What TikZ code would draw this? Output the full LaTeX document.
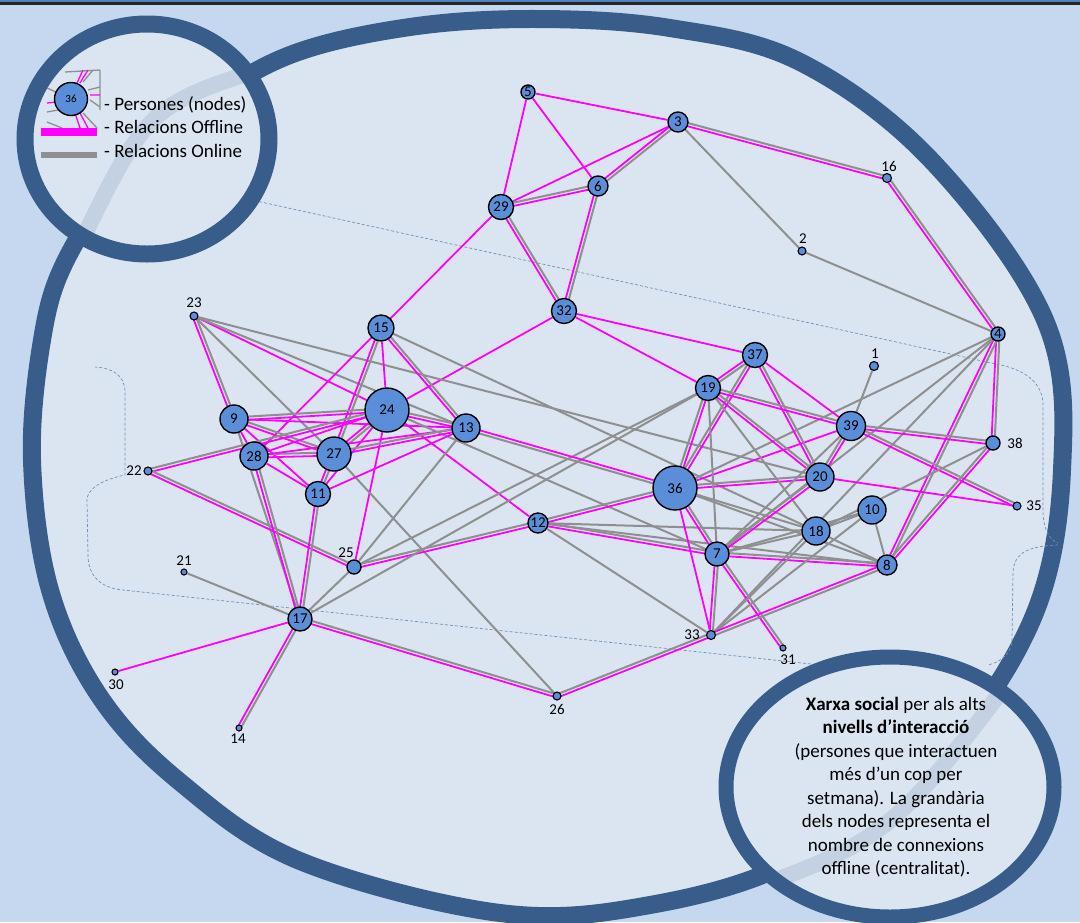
\documentclass[tikz,border=0pt]{standalone}
\usepackage{fontspec}
\setmainfont{Carlito}
\usetikzlibrary{calc}
\definecolor{bgout}{HTML}{C5D8F0}
\definecolor{bgin}{HTML}{DBE5F1}
\definecolor{ringc}{HTML}{385D8A}
\definecolor{nodec}{HTML}{5B8ED8}
\definecolor{offc}{HTML}{FF00FF}
\definecolor{onc}{HTML}{8F8F8F}
\definecolor{dshc}{HTML}{7090BA}
\definecolor{swc}{HTML}{C3D1E2}
\definecolor{topc}{HTML}{4F81BD}
\pgfdeclarelayer{deco}\pgfdeclarelayer{edges}\pgfdeclarelayer{front}
\pgfsetlayers{deco,edges,main,front}
\newcommand\eM[2]{\draw[offl] (n#1) -- (n#2);}
\newcommand\eG[2]{\draw[onl] (n#1) -- (n#2);}
\newcommand\eB[2]{\draw[onl] ($(n#1)!1.6pt!90:(n#2)$) -- ($(n#2)!1.6pt!-90:(n#1)$);\draw[offl] ($(n#1)!1.6pt!-90:(n#2)$) -- ($(n#2)!1.6pt!90:(n#1)$);}
\begin{document}
\begin{tikzpicture}[x=1pt,y=-1pt,
  nd/.style={circle,draw=black,line width=1.4pt,fill=nodec,inner sep=0pt,font=\fontsize{15}{15}\selectfont},
  sn/.style={circle,draw=black,line width=1.1pt,fill=nodec,inner sep=0pt},
  lbl/.style={font=\fontsize{15}{15}\selectfont,inner sep=0pt},
  offl/.style={draw=offc,line width=1.8pt},
  onl/.style={draw=onc,line width=2pt},
  dsh/.style={draw=dshc,line width=0.7pt,dash pattern=on 3pt off 2pt},
  swoosh/.style={draw=swc,line width=16pt},
  legtxt/.style={font=\fontsize{19}{19}\selectfont,anchor=base west,inner sep=0pt},
  desctxt/.style={font=\fontsize{19}{19}\selectfont,anchor=base,inner sep=0pt}]
\useasboundingbox (0,0) rectangle (1080,922);
% ---------------- background decoration
\begin{pgfonlayer}{deco}
\fill[bgout] (0,0) rectangle (1080,922);
\fill[topc] (0,0) rectangle (1080,2);
\fill[black!85] (0,2) rectangle (1080,5);
\filldraw[draw=ringc,line width=18pt,fill=bgin] plot[smooth cycle,tension=0.6] coordinates {
 (537,19) (670,28) (800,62) (931,160) (1045,320) (1062,470) (1032,620) (937,760)
 (796,860) (650,905) (500,913) (300,861) (180,782) (100,697) (50,590) (32,460)
 (42,340) (65,262) (120,180) (200,108) (290,55) (410,27)};
\draw[dsh] (178,222) .. controls (178,200) and (186,189) .. (202,189) -- (1005,366)
  .. controls (1028,372) and (1043,385) .. (1043,405) -- (1043,510)
  .. controls (1043,530) and (1050,540) .. (1058,543);
\draw[dsh] (1058,545) .. controls (1030,546) and (1014,552) .. (1013,572) -- (1012,640)
  .. controls (1011,655) and (1000,662) .. (988,665);
\draw[dsh] (960,680) -- (123,590) .. controls (100,588) and (88,575) .. (88,555) -- (87,500)
  .. controls (87,490) and (100,480) .. (125,475) -- (125,392)
  .. controls (125,375) and (112,368) .. (95,367);
\end{pgfonlayer}
% ---------------- nodes
\node[nd,minimum size=14] (n5) at (528,92) {5};
\node[nd,minimum size=20] (n3) at (678,122) {3};
\node[nd,minimum size=20] (n6) at (598,186) {6};
\node[nd,minimum size=25] (n29) at (501,207) {29};
\node[nd,minimum size=25] (n32) at (564,311) {32};
\node[sn,minimum size=9] (n16) at (887,178) {};
\node[sn,minimum size=8] (n2) at (802,251) {};
\node[nd,minimum size=14] (n4) at (998,334) {4};
\node[nd,minimum size=26] (n15) at (381,328) {15};
\node[nd,minimum size=25] (n37) at (755,355) {37};
\node[sn,minimum size=9] (n1) at (874,366) {};
\node[sn,minimum size=8] (n23) at (194,316) {};
\node[nd,minimum size=25] (n19) at (708,388) {19};
\node[nd,minimum size=28] (n9) at (234,419) {9};
\node[nd,minimum size=44] (n24) at (387,410) {24};
\node[nd,minimum size=28] (n13) at (466,428) {13};
\node[nd,minimum size=29] (n39) at (851,426) {39};
\node[nd,minimum size=14] (n38) at (993,443) {};
\node[nd,minimum size=28] (n28) at (254,456) {28};
\node[nd,minimum size=34] (n27) at (334,454) {27};
\node[sn,minimum size=8] (n22) at (148,471) {};
\node[nd,minimum size=44] (n36) at (675,488) {36};
\node[nd,minimum size=28] (n20) at (820,477) {20};
\node[nd,minimum size=25] (n11) at (318,494) {11};
\node[sn,minimum size=8] (n35) at (1017,506) {};
\node[nd,minimum size=28] (n10) at (872,510) {10};
\node[nd,minimum size=20] (n12) at (538,523) {12};
\node[nd,minimum size=28] (n18) at (816,531) {18};
\node[nd,minimum size=14] (n25) at (354,567) {};
\node[nd,minimum size=24] (n7) at (717,554) {7};
\node[nd,minimum size=20] (n8) at (887,565) {8};
\node[sn,minimum size=6] (n21) at (184,572) {};
\node[nd,minimum size=24] (n17) at (300,619) {17};
\node[sn,minimum size=9] (n33) at (711,635) {};
\node[sn,minimum size=6] (n31) at (783,648) {};
\node[sn,minimum size=6] (n30) at (115,672) {};
\node[sn,minimum size=8] (n26) at (557,696) {};
\node[sn,minimum size=6] (n14) at (239,728) {};
% outside labels
\node[lbl] (l16) at (889,166) {16};
\node[lbl] (l2) at (803,239) {2};
\node[lbl] (l1) at (875,354) {1};
\node[lbl] (l23) at (194,303) {23};
\node[lbl] (l38) at (1015,443) {38};
\node[lbl] (l22) at (134,471) {22};
\node[lbl] (l35) at (1034,506) {35};
\node[lbl] (l25) at (346,553) {25};
\node[lbl] (l21) at (184,561) {21};
\node[lbl] (l33) at (692,635) {33};
\node[lbl] (l31) at (788,660) {31};
\node[lbl] (l30) at (116,685) {30};
\node[lbl] (l26) at (557,709) {26};
\node[lbl] (l14) at (238,739) {14};
% ---------------- edges
\begin{pgfonlayer}{edges}
\eM{5}{3} \eM{5}{29} \eM{5}{6} \eM{3}{29} \eB{3}{6} \eB{3}{16} \eG{3}{2}
\eB{29}{6} \eB{6}{32} \eB{29}{32} \eM{29}{15} \eB{16}{4} \eG{2}{4}
\eM{32}{24} \eM{32}{37} \eM{32}{19}
\eB{4}{38} \eB{4}{8} \eG{4}{36} \eG{4}{7} \eG{4}{33}
\eB{23}{9} \eG{23}{27} \eM{23}{24} \eG{23}{13} \eG{23}{20}
\eM{15}{24} \eB{15}{27} \eM{15}{28} \eB{15}{13} \eG{15}{18}
\eB{9}{24} \eB{9}{27} \eM{9}{28} \eM{9}{11} \eM{9}{13} \eG{9}{17}
\eB{24}{27} \eM{24}{28} \eM{24}{11} \eB{24}{13} \eM{24}{25} \eM{24}{12} \eG{24}{7}
\eB{22}{24} \eB{22}{25}
\eB{28}{27} \eM{28}{11} \eM{28}{13} \eB{28}{17}
\eB{27}{11} \eB{27}{13} \eG{27}{26}
\eM{11}{13} \eB{11}{17}
\eG{25}{13} \eG{25}{19} \eB{25}{12} \eG{25}{17}
\eG{17}{21} \eM{17}{30} \eB{17}{14} \eB{17}{26} \eG{17}{19}
\eB{26}{33}
\eB{12}{36} \eB{12}{7} \eG{12}{18} \eG{12}{8} \eG{12}{33}
\eB{36}{19} \eB{36}{37} \eM{36}{39} \eB{36}{20} \eB{36}{7} \eM{36}{33} \eG{36}{18} \eG{36}{8} \eB{36}{13}
\eB{37}{19} \eB{37}{20} \eM{37}{39}
\eG{19}{7} \eB{19}{39} \eB{19}{20} \eG{19}{18}
\eB{7}{20} \eG{7}{18} \eG{7}{10} \eG{7}{39} \eB{7}{8} \eB{7}{33} \eB{7}{31}
\eB{20}{39} \eM{20}{35}
\eG{39}{1} \eB{39}{38} \eB{39}{35}
\eG{10}{8} \eG{10}{18} \eG{10}{33}
\eG{18}{8} \eG{18}{33} \eG{18}{38}
\eB{8}{38} \eB{8}{33}
\end{pgfonlayer}
% ---------------- legend and description circles
\begin{pgfonlayer}{front}
\fill[bgin] (147,139) ellipse [x radius=122,y radius=115];
\begin{scope}
\clip (147,139) ellipse [x radius=122,y radius=115];
\draw[swoosh] (70,265) .. controls (147,105) .. (275,65);
\end{scope}
\draw[draw=ringc,line width=17pt] (147,139) ellipse [x radius=122,y radius=115];
\begin{scope}
\clip (44,69) rectangle (101,129);
\draw[onl,line width=1.3pt] (65,72) -- (100,70) (83,82) -- (93,70) (88,90) -- (100,87)
  (90,100) -- (100,107) (47,88) -- (56,92) (47,112) -- (58,110) (83,113) -- (97,128)
  (47,122) -- (62,128) (100,70) -- (100,110);
\draw[offl,line width=1.3pt] (77,83) -- (83,70) (80,83) -- (88,70) (90,95) -- (100,95)
  (47,103) -- (56,102) (75,113) -- (80,128) (80,113) -- (88,128);
\end{scope}
\node[nd,minimum size=33,font=\fontsize{11}{11}\selectfont] (lg36) at (71,99) {36};
\fill[offc] (41,128) rectangle (97,136);
\fill[onc] (41,152) rectangle (97,158);
\node[legtxt] (lgt1) at (104,110) {- Persones (nodes)};
\node[legtxt] (lgt2) at (104,133.5) {- Relacions Offline};
\node[legtxt] (lgt3) at (104,157) {- Relacions Online};
% description
\fill[bgin] (890,787) ellipse [x radius=164,y radius=130];
\begin{scope}
\clip (890,787) ellipse [x radius=164,y radius=130];
\draw[swoosh] (720,900) .. controls (890,840) .. (1040,640);
\end{scope}
\draw[draw=ringc,line width=15pt] (890,787) ellipse [x radius=164,y radius=130];
\node[desctxt] (t1) at (896,710) {\textbf{Xarxa social} per als alts};
\node[desctxt] (t2) at (896,733.5) {\textbf{nivells d’interacció}};
\node[desctxt] (t3) at (896,757) {(persones que interactuen};
\node[desctxt] (t4) at (896,780.5) {més d’un cop per};
\node[desctxt] (t5) at (896,804) {setmana). La grandària};
\node[desctxt] (t6) at (896,827.5) {dels nodes representa el};
\node[desctxt] (t7) at (896,851) {nombre de connexions};
\node[desctxt] (t8) at (896,874.5) {offline (centralitat).};
\end{pgfonlayer}
\end{tikzpicture}
\end{document}
